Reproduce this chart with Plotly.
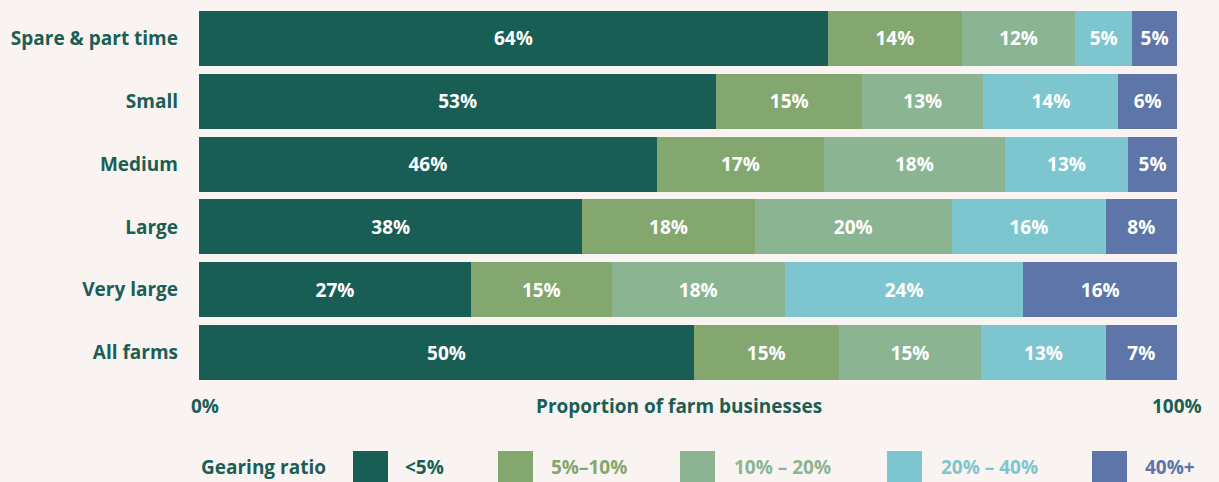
import plotly.graph_objects as go

categories = ["Spare & part time", "Small", "Medium", "Large", "Very large", "All farms"]
series_names = ["<5%", "5%–10%", "10% – 20%", "20% – 40%", "40%+"]
colors = ["#185e55", "#83a76e", "#8bb592", "#7ec6cf", "#5d75a8"]

# bar widths (share of farm businesses, %)
lt5 = [64.3, 52.9, 46.8, 39.2, 27.8, 50.6]
r5_10 = [13.7, 14.9, 17.1, 17.6, 14.4, 14.8]
r10_20 = [11.6, 12.4, 18.5, 20.2, 17.7, 14.6]
r20_40 = [5.8, 13.8, 12.6, 15.7, 24.4, 12.7]
r40p = [4.6, 6.0, 5.0, 7.3, 15.7, 7.3]

# printed labels on the bars (%)
lt5_lbl = [64, 53, 46, 38, 27, 50]
r5_10_lbl = [14, 15, 17, 18, 15, 15]
r10_20_lbl = [12, 13, 18, 20, 18, 15]
r20_40_lbl = [5, 14, 13, 16, 24, 13]
r40p_lbl = [5, 6, 5, 8, 16, 7]

x_tick_vals = [0, 100]
x_tick_text = ["0%", "100%"]
x_title = "Proportion of farm businesses"
legend_title = "Gearing ratio"

values = [lt5, r5_10, r10_20, r20_40, r40p]
labels = [lt5_lbl, r5_10_lbl, r10_20_lbl, r20_40_lbl, r40p_lbl]

BG = "#f9f4f1"
TEAL = "#1b5e55"
FONT = "Open Sans"
FS = 19

fig = go.Figure()
for name, vals, lbls, col in zip(series_names, values, labels, colors):
    fig.add_trace(go.Bar(
        y=categories, x=vals, name=name, orientation="h",
        marker=dict(color=col, line=dict(width=0)),
        text=[f"{v}%" for v in lbls], textposition="inside",
        insidetextanchor="middle", textangle=0, constraintext="none",
        textfont=dict(family=FONT, size=FS, color="white", weight=700),
        hoverinfo="skip", showlegend=False,
    ))

L, R, T, B = 199, 42, 7, 98
W, H = 1219, 482
pw = W - L - R
ph = H - T - B

def px(xp):
    return (xp - L) / pw

def py(yp):
    return (H - B - yp) / ph

annotations = []
shapes = []
# x tick labels
annotations.append(dict(x=x_tick_vals[0], y=py(406), xref="x", yref="paper", text=x_tick_text[0],
                        showarrow=False, xanchor="center", yanchor="middle", xshift=6,
                        font=dict(family=FONT, size=FS, color=TEAL, weight=700)))
annotations.append(dict(x=x_tick_vals[1], y=py(406), xref="x", yref="paper", text=x_tick_text[1],
                        showarrow=False, xanchor="center", yanchor="middle",
                        font=dict(family=FONT, size=FS, color=TEAL, weight=700)))
annotations.append(dict(x=px(679), y=py(406), xref="paper", yref="paper", text=x_title,
                        showarrow=False, xanchor="center", yanchor="middle",
                        font=dict(family=FONT, size=FS, color=TEAL, weight=700)))
# legend
annotations.append(dict(x=px(199), y=py(467), xref="paper", yref="paper", text=legend_title,
                        showarrow=False, xanchor="left", yanchor="middle",
                        font=dict(family=FONT, size=FS, color=TEAL, weight=700)))
sq_left = [353, 498, 680, 887, 1092]
txt_left = [403, 549, 732, 939, 1143]
for name, col, sx, tx in zip(series_names, colors, sq_left, txt_left):
    shapes.append(dict(type="rect", xref="paper", yref="paper",
                       x0=px(sx), x1=px(sx + 35), y0=py(486), y1=py(451),
                       fillcolor=col, line=dict(width=0)))
    annotations.append(dict(x=px(tx), y=py(467), xref="paper", yref="paper", text=name,
                            showarrow=False, xanchor="left", yanchor="middle",
                            font=dict(family=FONT, size=FS, color=col, weight=700)))

fig.update_layout(
    barmode="stack", bargap=0.124,
    width=W, height=H,
    margin=dict(l=L, r=R, t=T, b=B, pad=0),
    paper_bgcolor=BG, plot_bgcolor=BG,
    xaxis=dict(range=[0, 100], showgrid=False, zeroline=False, showticklabels=False,
               showline=False, fixedrange=True),
    yaxis=dict(autorange="reversed", showgrid=False, zeroline=False, showline=False,
               ticks="", ticklabelstandoff=20,
               tickfont=dict(family=FONT, size=FS, color=TEAL, weight=700)),
    annotations=annotations, shapes=shapes,
    font=dict(family=FONT),
)

fig.write_html("out.html", config={"displayModeBar": False},
               post_script="document.body.style.margin='0';document.body.style.background='" + BG + "';")
